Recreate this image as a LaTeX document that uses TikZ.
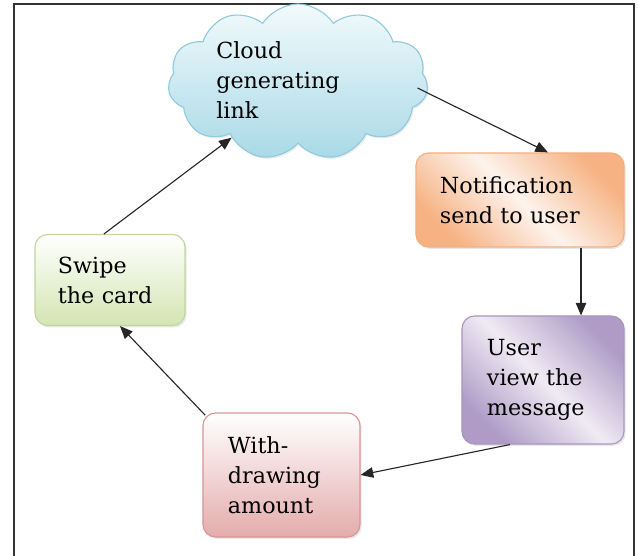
\documentclass[tikz,border=0pt]{standalone}
\usepackage{fontspec}
\setmainfont{DejaVu Serif}
\usetikzlibrary{arrows.meta, positioning, calc, shapes.symbols, shadows}

\definecolor{cloudtop}{HTML}{F2FAFC}
\definecolor{cloudbot}{HTML}{A9D9E7}
\definecolor{cloudline}{HTML}{8FCBDD}
\definecolor{notiffill}{HTML}{F6B283}
\definecolor{notifline}{HTML}{F2B080}
\definecolor{userfill}{HTML}{AF9BC6}
\definecolor{userline}{HTML}{A996C0}
\definecolor{drawfill}{HTML}{E4ACAC}
\definecolor{drawline}{HTML}{D99595}
\definecolor{swipefill}{HTML}{D4E5B2}
\definecolor{swipeline}{HTML}{C0D6A0}

\begin{document}
\begin{tikzpicture}[
    x=0.025cm, y=-0.025cm,
    % Common box styling
    base/.style={
        rounded corners=9pt,
        line width=0.8pt,
        align=left,
        inner sep=0pt,
        font=\fontsize{15.8}{21.3}\selectfont,
        drop shadow={opacity=0.18, shadow xshift=1.2pt, shadow yshift=-1.4pt}
    },
    notif_box/.style={base, draw=notifline, top color=notiffill, bottom color=notiffill,
        middle color=notiffill!15, shading angle=-45},
    user_box/.style={base, draw=userline, top color=userfill, bottom color=userfill,
        middle color=userfill!20, shading angle=-45},
    draw_box/.style={base, draw=drawline, top color=white, bottom color=drawfill},
    swipe_box/.style={base, draw=swipeline, top color=white, bottom color=swipefill},
    cloud_shape/.style={cloud, cloud puffs=11, cloud puff arc=115, cloud ignores aspect,
        draw=cloudline, line width=0.8pt, top color=cloudtop, bottom color=cloudbot,
        minimum width=6.5cm, minimum height=3.9cm, inner sep=0pt,
        drop shadow={opacity=0.15, shadow xshift=1pt, shadow yshift=-1.2pt}},
    label_node/.style={align=left, inner sep=0pt, font=\fontsize{15.8}{21.3}\selectfont},
    arr/.style={-{Triangle[length=9pt, width=7.5pt]}, line width=0.8pt, black!85}
]
    \useasboundingbox (0,0) rectangle (638,556);

    % ==========================================
    % 1. PAGE FRAME
    % ==========================================
    \draw[line width=1.2pt, black!80] (14,556) -- (14,4) -- (634,4) -- (634,556);

    % ==========================================
    % 2. CYCLE STEPS
    % ==========================================
    \node[cloud_shape] (cloud) at (298,82) {};
    \node[label_node, text width=3.4cm, anchor=west] (cloudtxt) at (216,80) {Cloud\\generating\\link};

    \node[notif_box, minimum width=5.2cm, minimum height=2.35cm, text width=4cm] (notif) at (520,200)
        {Notification\\send to user};
    \node[user_box, minimum width=4.05cm, minimum height=3.2cm, text width=2.8cm] (user) at (543,380)
        {User\\view the\\message};
    \node[draw_box, minimum width=3.925cm, minimum height=3.1cm, text width=2.675cm] (withdraw) at (281.5,475)
        {With-\\drawing\\amount};
    \node[swipe_box, minimum width=3.75cm, minimum height=2.275cm, text width=2.6cm] (swipe) at (110,280)
        {Swipe\\the card};

    % ==========================================
    % 3. CONNECTIONS
    % ==========================================
    \draw[arr] ([xshift=-0.25cm, yshift=-0.15cm]cloud.east) -- ([xshift=0.7cm]notif.north);
    \draw[arr] ([xshift=1.525cm]notif.south) coordinate (n_out) -- (n_out |- user.north);
    \draw[arr] ([xshift=-0.825cm]user.south) -- (withdraw.east);
    \draw[arr] ([shift={(2pt,-2pt)}]withdraw.north west) -- ([xshift=0.25cm]swipe.south);
    \draw[arr] ([xshift=-0.15cm]swipe.north) -- (cloud.220);

\end{tikzpicture}
\end{document}
